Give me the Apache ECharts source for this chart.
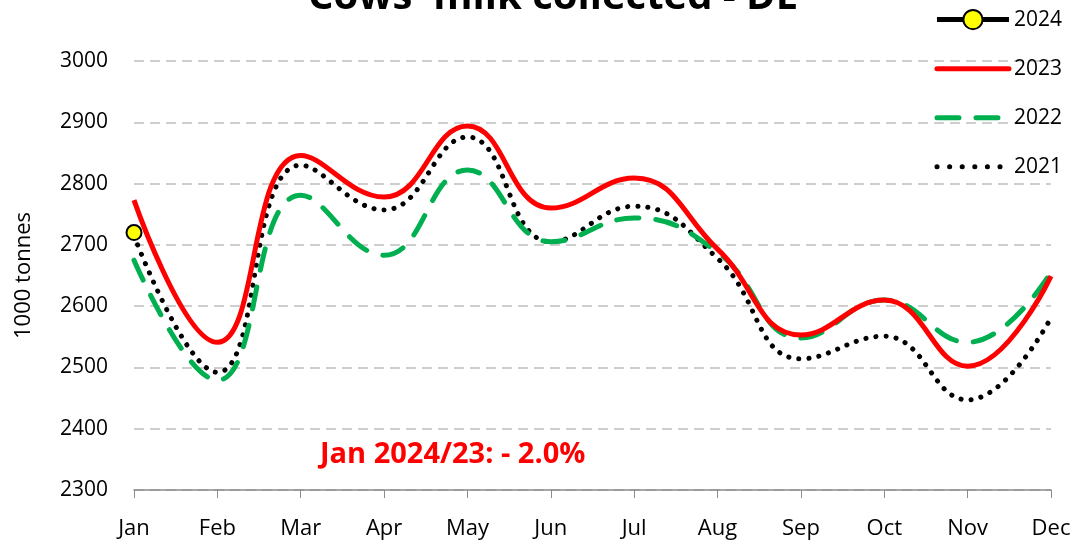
<!DOCTYPE html>
<html><head><meta charset="utf-8">
<script src="https://cdn.jsdelivr.net/npm/echarts@6/dist/echarts.min.js"></script>
<style>html,body{margin:0;padding:0;background:#fff}#c{width:1079px;height:549px}</style>
</head><body><div id="c"></div>
<script>
var months = ['Jan','Feb','Mar','Apr','May','Jun','Jul','Aug','Sep','Oct','Nov','Dec'];
var yTicks = [2300,2400,2500,2600,2700,2800,2900,3000];
var s2024 = [2720];
var s2023 = [2773,2541,2846,2778,2894,2760,2809,2693,2553,2610,2502,2649];
var s2022 = [2675,2479,2781,2683,2822,2705,2744,2688,2548,2610,2541,2655];
var s2021 = [2715,2492,2830,2757,2876,2705,2763,2678,2514,2551,2447,2581];

var F = 'Open Sans, Noto Sans, sans-serif';
var dash22 = [22,17], dot21 = [0.1,10];
var chart = echarts.init(document.getElementById('c'));
chart.setOption({
  animation:false,
  title:{text:"Cows' milk collected - DE", left:548, textAlign:'center', top:-27,
    textStyle:{fontFamily:F,fontSize:40,fontWeight:'bold',color:'#000'}},
  grid:{left:134,right:28,top:61,bottom:59},
  legend:{orient:'vertical',right:12,top:4,itemGap:28,itemWidth:72,itemHeight:24,
    textStyle:{fontFamily:F,fontSize:21,color:'#000'},
    data:[{name:'2024',lineStyle:{width:5,color:'#000'}},
          {name:'2023',itemStyle:{opacity:0},lineStyle:{width:5,color:'#ff0000',cap:'round'}},
          {name:'2022',itemStyle:{opacity:0},lineStyle:{width:5,color:'#00b050',type:dash22,cap:'round'}},
          {name:'2021',itemStyle:{opacity:0},lineStyle:{width:5,color:'#000',type:[0.1,12.5],cap:'round'}}]},
  xAxis:{type:'category',data:months,boundaryGap:false,
    axisLine:{lineStyle:{color:'#8c8c8c',width:1.5}},
    axisTick:{show:true,length:8,lineStyle:{color:'#8c8c8c'}},
    axisLabel:{fontFamily:F,fontSize:22,color:'#000',margin:28}},
  yAxis:{type:'value',min:2300,max:3000,interval:100,
    name:'1000 tonnes',nameLocation:'middle',nameGap:99,
    nameTextStyle:{fontFamily:F,fontSize:22,color:'#000'},
    axisLine:{show:false},axisTick:{show:false},
    axisLabel:{fontFamily:F,fontSize:21,color:'#000',margin:26,formatter:function(v){return String(v);}},
    splitLine:{lineStyle:{color:'#bfbfbf',type:[10,6],width:1.5}}},
  graphic:[{type:'text',left:320,top:440,style:{text:'Jan 2024/23: - 2.0%',
    fontFamily:F,fontSize:29,fontWeight:'bold',fill:'#ff0000'}}],
  series:[
    {name:'2021',type:'line',data:s2021,smooth:0.45,symbol:'none',z:3,
      lineStyle:{color:'#000',width:5,type:dot21,cap:'round'},itemStyle:{color:'#000'}},
    {name:'2022',type:'line',data:s2022,smooth:0.45,symbol:'none',z:4,
      lineStyle:{color:'#00b050',width:5,type:dash22,cap:'round'},itemStyle:{color:'#00b050'}},
    {name:'2023',type:'line',data:s2023,smooth:0.45,symbol:'none',z:5,
      lineStyle:{color:'#ff0000',width:5},itemStyle:{color:'#ff0000'}},
    {name:'2024',type:'line',data:s2024,symbol:'circle',symbolSize:15,z:6,
      lineStyle:{color:'#000',width:5},itemStyle:{color:'#ffff00',borderColor:'#000',borderWidth:2}}
  ]
});
</script></body></html>
